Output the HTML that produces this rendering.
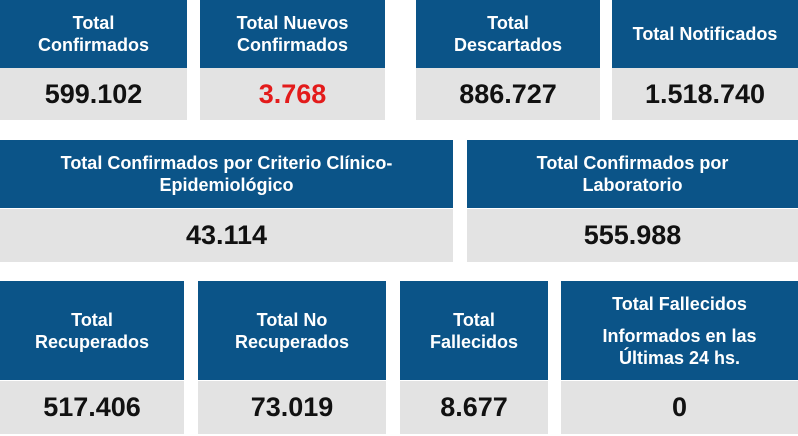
<!DOCTYPE html>
<html><head><meta charset="utf-8"><style>
body{margin:0;width:798px;height:436px;background:#fff;position:relative;overflow:hidden;font-family:"Liberation Sans",Arial,sans-serif;font-weight:bold}
.b{position:absolute}
.h{position:absolute;left:0;right:0;top:0;background:#0b5488;color:#fff;display:flex;align-items:center;justify-content:center;text-align:center;font-size:18px;line-height:22px}
.v{position:absolute;left:0;right:0;bottom:0;background:#e3e3e3;color:#111;display:flex;align-items:center;justify-content:center;font-size:27px}
</style></head><body>
<div class="b" style="left:0;top:0;width:187px;height:120px"><div class="h" style="height:68px">Total<br>Confirmados</div><div class="v" style="height:52px">599.102</div></div>
<div class="b" style="left:200px;top:0;width:185px;height:120px"><div class="h" style="height:68px">Total Nuevos<br>Confirmados</div><div class="v" style="height:52px;color:#e31b1b">3.768</div></div>
<div class="b" style="left:416px;top:0;width:184px;height:120px"><div class="h" style="height:68px">Total<br>Descartados</div><div class="v" style="height:52px">886.727</div></div>
<div class="b" style="left:612px;top:0;width:186px;height:120px"><div class="h" style="height:68px">Total Notificados</div><div class="v" style="height:52px">1.518.740</div></div>

<div class="b" style="left:0;top:140px;width:453px;height:122px"><div class="h" style="height:68px">Total Confirmados por Criterio Clínico-<br>Epidemiológico</div><div class="v" style="height:53px">43.114</div></div>
<div class="b" style="left:467px;top:140px;width:331px;height:122px"><div class="h" style="height:68px">Total Confirmados por<br>Laboratorio</div><div class="v" style="height:53px">555.988</div></div>

<div class="b" style="left:0;top:281px;width:184px;height:153px"><div class="h" style="height:99px">Total<br>Recuperados</div><div class="v" style="height:53px">517.406</div></div>
<div class="b" style="left:198px;top:281px;width:188px;height:153px"><div class="h" style="height:99px">Total No<br>Recuperados</div><div class="v" style="height:53px">73.019</div></div>
<div class="b" style="left:400px;top:281px;width:148px;height:153px"><div class="h" style="height:99px">Total<br>Fallecidos</div><div class="v" style="height:53px">8.677</div></div>
<div class="b" style="left:561px;top:281px;width:237px;height:153px"><div class="h" style="height:99px;line-height:22px"><div>Total Fallecidos<div style="height:10px"></div>Informados en las<br>Últimas 24 hs.</div></div><div class="v" style="height:53px">0</div></div>
</body></html>
